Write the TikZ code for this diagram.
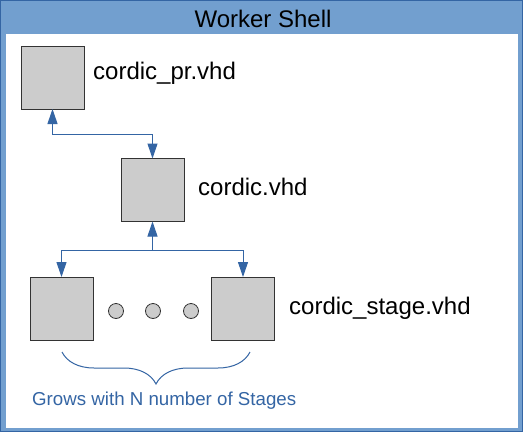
\documentclass[tikz,border=0pt]{standalone}
\usepackage{fontspec}
\setmainfont{Liberation Sans}
\usetikzlibrary{arrows.meta,decorations.pathreplacing,calc}
\definecolor{bandblue}{HTML}{729FCF}
\definecolor{darkblue}{HTML}{3465A4}
\definecolor{boxgray}{HTML}{CCCCCC}
\definecolor{edgegray}{HTML}{333333}
\tikzset{
  modbox/.style={draw=edgegray, fill=boxgray, line width=1pt, minimum width=63pt, minimum height=63pt, inner sep=0pt, outer sep=0pt},
  dotnode/.style={circle, draw=edgegray, fill=boxgray, line width=0.8pt, minimum size=15pt, inner sep=0pt},
  lbl/.style={anchor=west, inner sep=0pt, font=\fontsize{24}{28}\selectfont},
  conn/.style={draw=darkblue, line width=1pt},
  tip/.style={-{Triangle[width=10pt,length=15pt]}},
}
\begin{document}
\begin{tikzpicture}[x=1pt,y=-1pt]
\useasboundingbox (0,0) rectangle (523,432);
\fill[bandblue] (0,0) rectangle (523,432);
\draw[darkblue, line width=1pt] (0.5,0.5) rectangle (522.5,431.5);
\fill[white] (5.5,34) rectangle (518,427.5);
\node[inner sep=0pt, font=\fontsize{24}{28}\selectfont] (title) at (263,19) {Worker Shell};

\node[modbox] (pr) at (52.5,77.5) {};
\node[lbl] (prl) at (93,73) {cordic\_pr.vhd};
\node[modbox] (cor) at (152.5,190) {};
\node[lbl] (corl) at (198,187) {cordic.vhd};
\node[modbox] (s1) at (61.5,308.5) {};
\node[modbox] (s2) at (243,308.5) {};
\node[lbl] (s2l) at (289,308) {cordic\_stage.vhd};

\node[dotnode] (d1) at (116,311) {};
\node[dotnode] (d2) at (153,311) {};
\node[dotnode] (d3) at (191,311) {};

\draw[conn, {Triangle[width=10pt,length=15pt]}-{Triangle[width=10pt,length=15pt]}] (pr.south) -- ++(0,25) -| (cor.north);
\coordinate (j) at ($(cor.south)+(0,29)$);
\draw[conn, tip] (j) -- (cor.south);
\draw[conn, tip] (j) -| (s1.north);
\draw[conn, tip] (j) -| (s2.north);

\coordinate (b1) at (62,352);
\coordinate (b2) at (250,352);
\draw[darkblue, line width=1pt, decorate, decoration={brace, mirror, amplitude=32pt}] (b1) -- (b2);
\node[anchor=west, inner sep=0pt, text=darkblue, font=\fontsize{18.7}{22}\selectfont] (grow) at (32,401) {Grows with N number of Stages};
\end{tikzpicture}
\end{document}
